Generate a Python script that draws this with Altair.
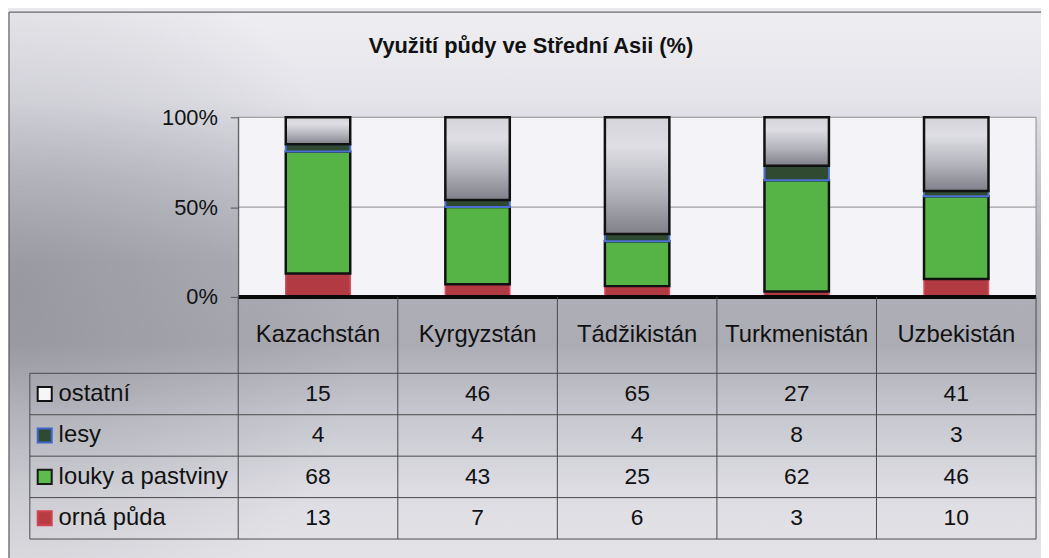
import altair as alt
import pandas as pd

# ---------------- data ----------------
countries = ["Kazachstán", "Kyrgyzstán", "Tádžikistán", "Turkmenistán", "Uzbekistán"]
series = ["ostatní", "lesy", "louky a pastviny", "orná půda"]
ostatni = [15, 46, 65, 27, 41]
lesy = [4, 4, 4, 8, 3]
louky = [68, 43, 25, 62, 46]
orna = [13, 7, 6, 3, 10]
y_ticks = [0, 50, 100]
title_text = "Využití půdy ve Střední Asii (%)"

values_by_series = [ostatni, lesy, louky, orna]
rows = []
for si, (s, vals) in enumerate(zip(series, values_by_series)):
    for ci, (c, v) in enumerate(zip(countries, vals)):
        rows.append({"country": c, "ci": ci, "series": s, "si": si,
                     "stack_order": len(series) - 1 - si, "value": v})
df = pd.DataFrame(rows)
df_countries = pd.DataFrame({"country": countries, "ci": list(range(len(countries)))})
df_series = pd.DataFrame({"series": series, "si": list(range(len(series)))})

# ---------------- layout ----------------
W, H = 1040, 548
PX0, PX1 = 231, 1035          # plot area left/right
PY_TOP, PY_BOT = 106, 287     # 100% and 0%
TX0 = 21                      # table left edge
TY_BOT = 531                  # table bottom
HDR_PX = 77
NC, NS = len(countries), len(series)
COL_W = (PX1 - PX0) / NC
L = (PX0 - TX0) / COL_W
ROW_H = (TY_BOT - PY_BOT - HDR_PX) / NS
HDR = HDR_PX / ROW_H
FONT = "Liberation Sans"

x_col = alt.Scale(domain=[-L, NC], range=[TX0, PX1])
y_bar = alt.Scale(domain=[0, 100], range=[PY_BOT, PY_TOP])
y_tab = alt.Scale(domain=[-HDR, NS], range=[PY_BOT, TY_BOT])
x_band = alt.Scale(domain=countries, range=[PX0, PX1], paddingInner=0.596, paddingOuter=0.298)

dummy = pd.DataFrame({"a": [0]})

# ---------------- background ----------------
bg = alt.Chart(dummy).mark_rect(
    fill=alt.LinearGradient(
        gradient="linear", x1=0, x2=0, y1=0, y2=1,
        stops=[alt.GradientStop(offset=0, color="#eeeef2"),
               alt.GradientStop(offset=0.16, color="#e4e4ea"),
               alt.GradientStop(offset=0.3, color="#c8c8d0"),
               alt.GradientStop(offset=0.45, color="#b0b0b8"),
               alt.GradientStop(offset=0.6, color="#acacb4"),
               alt.GradientStop(offset=0.72, color="#c6c6ce"),
               alt.GradientStop(offset=0.86, color="#dcdce2"),
               alt.GradientStop(offset=1, color="#e4e4e8")])
).encode(x=alt.value(0), x2=alt.value(W), y=alt.value(0), y2=alt.value(H + 10))

bg2 = alt.Chart(dummy).mark_rect(
    fill=alt.RadialGradient(
        gradient="radial", x1=0, y1=0.5, r1=0, x2=0, y2=0.5, r2=0.35,
        stops=[alt.GradientStop(offset=0, color="rgba(110,110,120,0.35)"),
               alt.GradientStop(offset=1, color="rgba(110,110,120,0)")])
).encode(x=alt.value(0), x2=alt.value(W), y=alt.value(0), y2=alt.value(H + 10))

frame = alt.Chart(dummy).mark_rect(filled=False, stroke="#4a4a4a", strokeWidth=1).encode(
    x=alt.value(0), x2=alt.value(W + 10), y=alt.value(0), y2=alt.value(H + 10))

# ---------------- plot area + axis ----------------
plot_df = pd.DataFrame({"x0": [0], "x1": [NC], "y0": [0], "y1": [100]})
plot_area = alt.Chart(plot_df).mark_rect(fill="#f4f4f8", stroke="#8c8c8c", strokeWidth=1).encode(
    x=alt.X("x0:Q", scale=x_col, axis=None), x2="x1:Q",
    y=alt.Y("y0:Q", scale=y_bar, axis=alt.Axis(
        orient="left", offset=-PX0, values=y_ticks, labelExpr="datum.value + '%'",
        labelFont=FONT, labelFontSize=22, labelColor="#111", labelPadding=13,
        tickSize=8, tickColor="#555", domain=True, domainColor="#555",
        grid=False, title=None, zindex=1)),
    y2="y1:Q")

grid_df = pd.DataFrame({"v": [50], "x0": [0], "x1": [NC]})
grid = alt.Chart(grid_df).mark_rule(color="#8c8c8c", strokeWidth=1).encode(
    x=alt.X("x0:Q", scale=x_col, axis=None), x2="x1:Q",
    y=alt.Y("v:Q", scale=y_bar, axis=None))

# ---------------- bars ----------------
stacked = alt.Chart(df).transform_stack(
    stack="value", groupby=["country"], as_=["y0", "y1"],
    sort=[alt.SortField("stack_order", order="ascending")])

ostatni_fill = alt.LinearGradient(
    gradient="linear", x1=0, x2=0, y1=0, y2=1,
    stops=[alt.GradientStop(offset=0, color="#d4d4da"),
           alt.GradientStop(offset=0.25, color="#dedee4"),
           alt.GradientStop(offset=0.65, color="#b2b2ba"),
           alt.GradientStop(offset=1, color="#80808a")])
bar_styles = {
    "orná půda": dict(fill="#b23a42", stroke="#e24a5e", strokeWidth=1.5),
    "louky a pastviny": dict(fill="#55b445", stroke="#111111", strokeWidth=2.5),
    "lesy": dict(fill="#2f4a30", stroke="#4a6fd6", strokeWidth=2),
    "ostatní": dict(fill=ostatni_fill, stroke="#111111", strokeWidth=2.5),
}
bar_layers = []
for s in ["orná půda", "louky a pastviny", "lesy", "ostatní"]:
    bar_layers.append(
        stacked.transform_filter(alt.datum.series == s).mark_bar(**bar_styles[s]).encode(
            x=alt.X("country:N", scale=x_band, axis=None),
            y=alt.Y("y0:Q", scale=y_bar, axis=None),
            y2="y1:Q"))

zero_df = pd.DataFrame({"v": [0], "x0": [0], "x1": [NC]})
zero_line = alt.Chart(zero_df).mark_rule(color="#0a0a0a", strokeWidth=4).encode(
    x=alt.X("x0:Q", scale=x_col, axis=None), x2="x1:Q",
    y=alt.Y("v:Q", scale=y_bar, axis=None))

# ---------------- data table ----------------
vlines = pd.DataFrame({"x": list(range(NC + 1)), "y0": [-HDR] * (NC + 1), "y1": [NS] * (NC + 1)})
vlines = pd.concat([vlines, pd.DataFrame({"x": [-L], "y0": [0], "y1": [NS]})], ignore_index=True)
hlines = pd.DataFrame({"y": list(range(NS + 1)), "x0": [-L] * (NS + 1), "x1": [NC] * (NS + 1)})
LINE_C = "#4a4a4a"
tab_v = alt.Chart(vlines).mark_rule(color=LINE_C, strokeWidth=1).encode(
    x=alt.X("x:Q", scale=x_col, axis=None),
    y=alt.Y("y0:Q", scale=y_tab, axis=None), y2="y1:Q")
tab_h = alt.Chart(hlines).mark_rule(color=LINE_C, strokeWidth=1).encode(
    x=alt.X("x0:Q", scale=x_col, axis=None), x2="x1:Q",
    y=alt.Y("y:Q", scale=y_tab, axis=None))

header = alt.Chart(df_countries).transform_calculate(xc="datum.ci + 0.5").mark_text(
    font=FONT, fontSize=24, color="#111", align="center", baseline="middle").encode(
    x=alt.X("xc:Q", scale=x_col, axis=None),
    y=alt.YDatum(-HDR / 2, scale=y_tab, axis=None),
    text="country:N")

cells = alt.Chart(df).transform_calculate(xc="datum.ci + 0.5", yc="datum.si + 0.5").mark_text(
    font=FONT, fontSize=23, color="#111", align="center", baseline="middle").encode(
    x=alt.X("xc:Q", scale=x_col, axis=None),
    y=alt.Y("yc:Q", scale=y_tab, axis=None),
    text="value:Q")

leg_text = alt.Chart(df_series).transform_calculate(yc="datum.si + 0.5").mark_text(
    font=FONT, fontSize=24, color="#111", align="left", baseline="middle", dx=29).encode(
    x=alt.XDatum(-L, scale=x_col, axis=None),
    y=alt.Y("yc:Q", scale=y_tab, axis=None),
    text="series:N")

swatch_fill = ["#f6f6f8", "#2f4a30", "#5cbc4c", "#b83c44"]
swatch_stroke = ["#111111", "#3f66d0", "#1a1a1a", "#d04452"]
leg_sw = alt.Chart(df_series).transform_calculate(yc="datum.si + 0.5").mark_square(
    size=200, opacity=1, strokeWidth=2, xOffset=15).encode(
    x=alt.XDatum(-L, scale=x_col, axis=None),
    y=alt.Y("yc:Q", scale=y_tab, axis=None),
    fill=alt.Fill("series:N", scale=alt.Scale(domain=series, range=swatch_fill), legend=None),
    stroke=alt.Stroke("series:N", scale=alt.Scale(domain=series, range=swatch_stroke), legend=None))

chart = alt.layer(
    bg, bg2, plot_area, grid, *bar_layers, zero_line,
    tab_v, tab_h, header, cells, leg_text, leg_sw, frame
).resolve_scale(
    x="independent", y="independent", fill="independent", stroke="independent"
).resolve_axis(x="independent", y="independent").properties(
    width=W, height=H,
    title=alt.TitleParams(title_text, font=FONT, fontSize=22, fontWeight="bold",
                          color="#111", anchor="middle", frame="group", offset=-47, dx=6),
    autosize=alt.AutoSizeParams(type="none"),
    padding={"left": 1, "top": 2, "right": 0, "bottom": 0},
).configure_view(stroke=None).configure(background="#e9e9ee")

chart.save("out.html", embed_options={"renderer": "svg", "actions": False})
